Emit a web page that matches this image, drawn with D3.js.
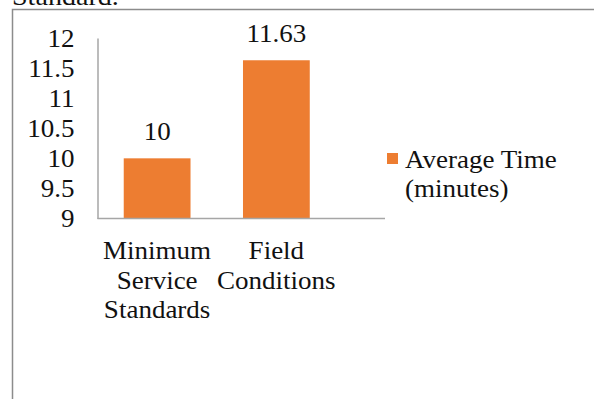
<!DOCTYPE html>
<html>
<head>
<meta charset="utf-8">
<script src="https://cdn.jsdelivr.net/npm/d3@7/dist/d3.min.js"></script>
<style>
  html, body { margin: 0; padding: 0; background: #fff; }
  svg { display: block; }
  text { font-family: "Liberation Serif", "Times New Roman", serif; fill: #111; }
</style>
</head>
<body>
<svg id="chart" width="594" height="399"></svg>
<script>
// Average response time, in minutes
const categories = [["Minimum", "Service", "Standards"], ["Field", "Conditions"]];
const values = [10, 11.63];
const yTicks = [9, 9.5, 10, 10.5, 11, 11.5, 12];
const seriesName = ["Average Time", "(minutes)"];
const caption = "Standard.";

const svg = d3.select("#chart");
const W = 594, H = 399;
const fs = 25;
const widen = 1.08; // the figure's type is set slightly wide
const barColor = "#ED7D31";
const axisColor = "#a6a6a6";

// Caption line above the figure frame (partly cut by the top edge)
svg.append("text")
  .attr("x", 12).attr("y", 5)
  .attr("font-size", 26)
  .text(caption);

// Figure frame
svg.append("path")
  .attr("d", `M12.5,${H} V9.5 H${W}`)
  .attr("fill", "none")
  .attr("stroke", "#8c8c8c")
  .attr("stroke-width", 1.5);

const plot = { left: 97.5, top: 38, bottom: 218.5, right: 336, lineEnd: 385 };

const x = d3.scaleBand()
  .domain(d3.range(values.length))
  .range([plot.left, plot.right])
  .paddingInner(0.44)
  .paddingOuter(0.22);

const y = d3.scaleLinear()
  .domain([d3.min(yTicks), d3.max(yTicks)])
  .range([plot.bottom, plot.top]);

// Bars
svg.append("g").selectAll("rect")
  .data(values)
  .join("rect")
  .attr("x", (d, i) => x(i))
  .attr("width", x.bandwidth())
  .attr("y", d => y(d))
  .attr("height", d => y(y.domain()[0]) - y(d))
  .attr("fill", barColor);

// Value labels
svg.append("g").selectAll("text")
  .data(values)
  .join("text")
  .attr("x", (d, i) => x(i) + x.bandwidth() / 2)
  .attr("y", d => y(d) - 18)
  .attr("text-anchor", "middle")
  .attr("font-size", fs)
  .text(d => d);

// Y axis
const yAxis = svg.append("g")
  .attr("transform", `translate(${plot.left},0)`)
  .call(d3.axisLeft(y).tickValues(yTicks).tickSize(0).tickPadding(23).tickFormat(d => d));
yAxis.select(".domain").attr("stroke", axisColor).attr("stroke-width", 1.5);
yAxis.selectAll("text")
  .attr("font-size", fs)
  .attr("font-family", "Liberation Serif, serif")
  .attr("fill", "#111");

// X axis baseline
svg.append("line")
  .attr("x1", plot.left).attr("x2", plot.lineEnd)
  .attr("y1", plot.bottom).attr("y2", plot.bottom)
  .attr("stroke", axisColor)
  .attr("stroke-width", 1.5);

// Category labels, one text element per line
const catLines = categories.flatMap((lines, i) => lines.map((t, k) => ({ t, i, k })));
svg.append("g").selectAll("text")
  .data(catLines)
  .join("text")
  .attr("text-anchor", "middle")
  .attr("font-size", fs)
  .attr("x", d => x(d.i) + x.bandwidth() / 2)
  .attr("y", d => 259 + d.k * 29.5)
  .text(d => d.t);

// Legend
const lg = svg.append("g").attr("transform", "translate(387,153)");
lg.append("rect").attr("width", 11).attr("height", 11).attr("fill", barColor);
lg.selectAll("text")
  .data(seriesName)
  .join("text")
  .attr("font-size", fs)
  .attr("x", 18)
  .attr("y", (d, i) => 15 + i * 29)
  .text(d => d);

// Widen every label a little, keeping its anchor point
svg.selectAll("text").each(function () {
  const len = this.getComputedTextLength();
  d3.select(this)
    .attr("textLength", len * widen)
    .attr("lengthAdjust", "spacingAndGlyphs");
});
</script>
</body>
</html>
